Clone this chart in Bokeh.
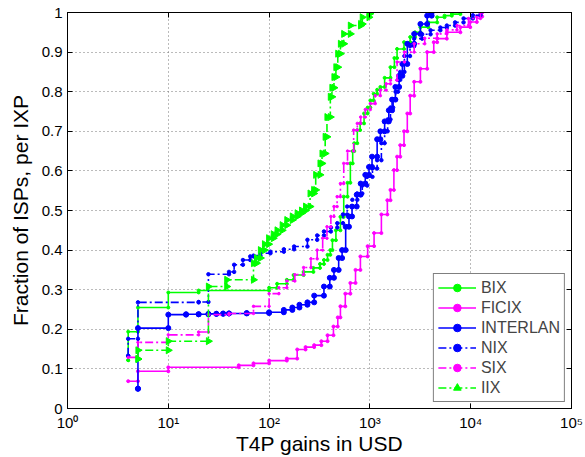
import numpy as np
from bokeh.plotting import figure
from bokeh.models import (FixedTicker, CustomJSTickFormatter, Legend, LegendItem,
                          Range1d, ColumnDataSource, LinearAxis, LogAxis)
from bokeh.embed import file_html
from bokeh.resources import INLINE

# ---- data: CDF step points (x = T4P gain in USD, y = fraction of ISPs) ----
bix_x = [4, 4, 5, 10, 20, 100, 120, 150, 175, 220, 275, 320, 350, 380, 405, 425, 460, 510,
         550, 600, 640, 675, 700, 750, 800, 875, 950, 1010, 1090, 1180, 1270, 1400, 1600,
         1750, 1860, 2180, 2510, 2800, 3170, 3800, 4650, 5500, 6500, 7900]
bix_y = [0.122, 0.194, 0.255, 0.293, 0.298, 0.305, 0.315, 0.325, 0.337, 0.345, 0.355, 0.365,
         0.375, 0.388, 0.40, 0.425, 0.45, 0.484, 0.535, 0.57, 0.619, 0.65, 0.67, 0.703, 0.72,
         0.745, 0.76, 0.778, 0.795, 0.805, 0.812, 0.835, 0.862, 0.885, 0.908, 0.925, 0.938,
         0.95, 0.963, 0.975, 0.988, 0.992, 0.996, 1.0]

ficix_x = [4, 5, 10, 50, 70, 100, 150, 190, 230, 280, 330, 380, 435, 480, 510, 570, 640, 720,
           805, 950, 1100, 1300, 1490, 1600, 1730, 1860, 2000, 2180, 2350, 2510, 2750, 3170,
           3700, 4300, 4650, 5800, 7900, 9900, 11500, 13000]
ficix_y = [0.069, 0.094, 0.104, 0.109, 0.114, 0.121, 0.126, 0.149, 0.155, 0.16, 0.17, 0.185,
           0.207, 0.23, 0.258, 0.29, 0.317, 0.35, 0.384, 0.41, 0.443, 0.49, 0.526, 0.552,
           0.602, 0.636, 0.665, 0.70, 0.745, 0.79, 0.825, 0.858, 0.90, 0.925, 0.934, 0.95,
           0.963, 0.976, 0.99, 1.0]

interlan_x = [5, 5, 10, 15, 20, 25, 30, 35, 40, 60, 100, 140, 170, 200, 240, 280, 350, 400,
              440, 490, 530, 575, 620, 665, 740, 810, 900, 980, 1050, 1180, 1270, 1400, 1540,
              1660, 1790, 1950, 2100, 2350, 2750, 3170, 3700, 4100]
interlan_y = [0.05, 0.203, 0.237, 0.238, 0.238, 0.239, 0.239, 0.240, 0.240, 0.241, 0.243,
              0.249, 0.255, 0.262, 0.268, 0.285, 0.308, 0.33, 0.35, 0.38, 0.40, 0.459, 0.485,
              0.51, 0.54, 0.568, 0.59, 0.61, 0.636, 0.68, 0.70, 0.725, 0.753, 0.78, 0.812,
              0.84, 0.87, 0.921, 0.946, 0.971, 0.992, 1.0]

nix_x = [4, 4, 5, 20, 25, 40, 45, 55, 65, 70, 82, 103, 140, 177, 240, 300, 350, 410, 475,
         540, 595, 670, 750, 840, 940, 1060, 1180, 1300, 1400, 1500, 1600, 1700, 1800, 1900,
         2000, 2200, 2500, 2750, 3300, 4000, 5000, 5800, 7000, 8500, 10500, 12500]
nix_y = [0.133, 0.176, 0.268, 0.269, 0.339, 0.345, 0.363, 0.375, 0.384, 0.386, 0.392, 0.396,
         0.402, 0.409, 0.426, 0.437, 0.447, 0.457, 0.468, 0.49, 0.51, 0.527, 0.543, 0.563,
         0.585, 0.606, 0.627, 0.67, 0.70, 0.73, 0.76, 0.78, 0.80, 0.83, 0.85, 0.89, 0.915,
         0.934, 0.945, 0.955, 0.962, 0.967, 0.975, 0.985, 0.993, 1.0]

six_x = [4, 5, 10, 20, 25, 40, 70, 100, 125, 150, 180, 220, 260, 300, 340, 375, 410, 440,
         473, 510, 550, 600, 690, 750, 810, 900, 1010, 1130, 1270, 1450, 1600, 1860, 2200,
         2750, 3500, 4650, 5800, 7300, 9500, 12500]
six_y = [0.129, 0.167, 0.186, 0.193, 0.237, 0.24, 0.258, 0.29, 0.305, 0.322, 0.338, 0.356,
         0.378, 0.40, 0.43, 0.459, 0.485, 0.51, 0.535, 0.568, 0.619, 0.65, 0.703, 0.72,
         0.736, 0.755, 0.77, 0.79, 0.804, 0.82, 0.829, 0.875, 0.90, 0.921, 0.935, 0.946,
         0.956, 0.967, 0.985, 1.0]

iix_x = [5, 5, 10, 25, 38, 70, 75, 82, 90, 99, 110, 120, 135, 150, 170, 190, 210, 230, 255,
         277, 290, 320, 335, 360, 375, 405, 420, 440, 460, 480, 510, 550, 640, 810, 840,
         980, 1000]
iix_y = [0.125, 0.147, 0.17, 0.308, 0.325, 0.367, 0.38, 0.40, 0.415, 0.43, 0.44, 0.45,
         0.463, 0.476, 0.485, 0.493, 0.50, 0.51, 0.543, 0.552, 0.59, 0.619, 0.644, 0.686,
         0.736, 0.787, 0.81, 0.837, 0.862, 0.896, 0.921, 0.946, 0.967, 0.971, 0.988, 0.997,
         1.0]

x_ticks = [1, 10, 100, 1000, 10000, 100000]
y_ticks = [0, 0.1, 0.2, 0.3, 0.4, 0.5, 0.6, 0.7, 0.8, 0.9, 1.0]

FONT = "Liberation Sans"


def stairs(xs, ys):
    sx, sy = [xs[0]], [ys[0]]
    for i in range(1, len(xs)):
        sx += [xs[i], xs[i]]
        sy += [ys[i - 1], ys[i]]
    return sx, sy


p = figure(width=585, height=457, x_axis_type="log",
           x_range=Range1d(1, 1e5), y_range=Range1d(0, 1),
           output_backend="svg", toolbar_location=None,
           min_border_left=67, min_border_right=14, min_border_top=12, min_border_bottom=48)

p.background_fill_color = "white"
p.border_fill_color = "white"
p.outline_line_color = "black"
p.outline_line_width = 1

xa = p.below[0]
ya = p.left[0]

for ax in (xa, ya):
    ax.axis_line_color = "black"
    ax.major_tick_in = 5
    ax.major_tick_out = 0
    ax.minor_tick_in = 0
    ax.minor_tick_out = 0
    ax.major_tick_line_color = "black"
    ax.major_label_text_font = FONT
    ax.major_label_text_font_size = "15px"
    ax.major_label_text_color = "black"
    ax.axis_label_text_font = FONT
    ax.axis_label_text_font_size = "21px"
    ax.axis_label_text_font_style = "normal"
    ax.axis_label_text_color = "black"

xa.ticker = FixedTicker(ticks=x_ticks)
ya.ticker = FixedTicker(ticks=y_ticks)
xa.formatter = CustomJSTickFormatter(code="""
const sup = {'0':'\u2070','1':'\u00b9','2':'\u00b2','3':'\u00b3','4':'\u2074','5':'\u2075'};
const e = Math.round(Math.log10(tick));
return '10' + sup[String(e)];
""")
ya.formatter = CustomJSTickFormatter(code="return String(Math.round(tick*10)/10);")
xa.major_label_standoff = 5
ya.major_label_standoff = 5
xa.axis_label_standoff = -2
ya.axis_label_standoff = 7
xa.axis_label = "T4P gains in USD"
ya.axis_label = "Fraction of ISPs, per IXP"

# mirror axes (ticks only) on top and right, like a boxed frame
top_ax = LogAxis(ticker=FixedTicker(ticks=x_ticks),
                 formatter=CustomJSTickFormatter(code="return '';"))
right_ax = LinearAxis(ticker=FixedTicker(ticks=y_ticks),
                      formatter=CustomJSTickFormatter(code="return '';"))
for ax in (top_ax, right_ax):
    ax.major_tick_in = 5
    ax.major_tick_out = 0
    ax.minor_tick_in = 0
    ax.minor_tick_out = 0
    ax.major_label_standoff = 0
    ax.major_label_text_font_size = "1px"
    ax.axis_line_color = "black"
    ax.major_tick_line_color = "black"
p.add_layout(top_ax, "above")
p.add_layout(right_ax, "right")

p.xgrid.ticker = FixedTicker(ticks=x_ticks)
p.ygrid.ticker = FixedTicker(ticks=y_ticks)
for g in (p.xgrid[0], p.ygrid[0]):
    g.grid_line_color = "#777777"
    g.grid_line_dash = "1 3"
    g.grid_line_width = 1

series = [
    ("BIX", bix_x, bix_y, "#00ff00", "solid", "circle", 3),
    ("FICIX", ficix_x, ficix_y, "#ff00ff", "solid", "circle", 3),
    ("INTERLAN", interlan_x, interlan_y, "#0000ff", "solid", "circle", 5),
    ("NIX", nix_x, nix_y, "#0000ff", "8 3 2 3", "circle", 3.5),
    ("SIX", six_x, six_y, "#ff00ff", "8 3 2 3", "circle", 2.5),
    ("IIX", iix_x, iix_y, "#00ff00", "8 3 2 3", "triangle", 7),
]

items = []
for name, xs, ys, col, dash, marker, size in series:
    sx, sy = stairs(xs, ys)
    src = ColumnDataSource(dict(x=sx, y=sy, a=[-np.pi / 2] * len(sx)))
    lr = p.line("x", "y", source=src, line_color=col, line_width=1.6, line_dash=dash)
    if marker == "triangle":
        mr = p.scatter("x", "y", source=src, marker="triangle", size=size,
                       fill_color=col, line_color=col, angle="a")
    else:
        mr = p.scatter("x", "y", source=src, marker="circle", size=size,
                       fill_color=col, line_color=col)
    items.append(LegendItem(label=name, renderers=[lr, mr]))

legend = Legend(items=items, location="bottom_right", margin=6, padding=4, spacing=1,
                label_height=19, glyph_height=19, glyph_width=38, label_standoff=5,
                label_text_font=FONT, label_text_font_size="16px",
                border_line_color="black", border_line_width=1,
                background_fill_color="white", background_fill_alpha=1)
p.add_layout(legend)

open("out.html", "w").write(file_html(p, INLINE))
